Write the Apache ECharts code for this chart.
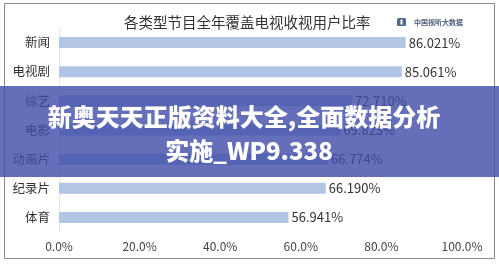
<!DOCTYPE html>
<html>
<head>
<meta charset="utf-8">
<style>
  html, body { margin: 0; padding: 0; background: #ffffff; }
  #chart { width: 499px; height: 264px; }
</style>
<script src="https://cdn.jsdelivr.net/npm/echarts@6/dist/echarts.min.js"></script>
</head>
<body>
<div id="chart"></div>
<script>
// Programme types, top to bottom
const categories = ['新闻', '电视剧', '综艺', '电影', '动画片', '纪录片', '体育'];
// Share of TV viewers reached over the year (%)
const coverage = [86.021, 85.061, 72.710, 69.823, 66.774, 66.190, 56.941];
// Value axis ticks (%)
const tickValues = [0, 20, 40, 60, 80, 100];

const chartTitle = '各类型节目全年覆盖电视收视用户比率';
const brandName = '中国视听大数据';
const bannerLines = ['新奥天天正版资料大全,全面数据分析', '实施_WP9.338'];

const FONT = '"Noto Sans CJK SC", "Noto Sans", sans-serif';

const chart = echarts.init(document.getElementById('chart'), null, { renderer: 'canvas' });

chart.setOption({
  backgroundColor: '#ffffff',
  animation: false,
  textStyle: { fontFamily: FONT },
  title: {
    text: chartTitle,
    left: 119,
    top: 10,
    textStyle: { fontSize: 14.5, fontWeight: 'normal', color: '#333333', fontFamily: FONT }
  },
  grid: { left: 59, right: 37, top: 28, bottom: 32, containLabel: false },
  xAxis: {
    type: 'value',
    min: tickValues[0],
    max: tickValues[tickValues.length - 1],
    interval: tickValues[1] - tickValues[0],
    axisLine: { show: false },
    axisTick: { show: false },
    splitLine: { show: false },
    axisLabel: {
      margin: 8,
      fontSize: 12,
      color: '#444444',
      fontFamily: FONT,
      formatter: v => v.toFixed(1) + '%'
    }
  },
  yAxis: {
    type: 'category',
    data: categories,
    inverse: true,
    axisLine: { show: true, lineStyle: { color: '#e6e6e6', width: 1 } },
    axisTick: { show: false },
    axisLabel: { margin: 9, fontSize: 12.5, color: '#333333', fontFamily: FONT }
  },
  series: [{
    type: 'bar',
    data: coverage,
    barWidth: 11,
    itemStyle: { color: '#b3c5e5' },
    label: {
      show: true,
      position: 'right',
      distance: 3,
      fontSize: 13,
      color: '#333333',
      fontFamily: FONT,
      formatter: p => p.value.toFixed(3) + '%'
    }
  }],
  graphic: [
    // outer frame
    {
      type: 'rect', z: 100,
      shape: { x: 4.5, y: 3.5, width: 490, height: 255 },
      style: { fill: 'none', stroke: '#8a8a8a', lineWidth: 1 }
    },
    // brand mark
    {
      type: 'rect', z: 100,
      shape: { x: 397, y: 18, width: 9, height: 8, r: 1.5 },
      style: { fill: '#4f6a8f' }
    },
    {
      type: 'rect', z: 101,
      shape: { x: 400.5, y: 19.5, width: 2, height: 5 },
      style: { fill: '#ffffff' }
    },
    {
      type: 'text', z: 100,
      style: {
        x: 414, y: 22, text: brandName,
        fill: '#4f5f7d', fontSize: 7, fontWeight: 'bold',
        fontFamily: FONT, verticalAlign: 'middle'
      }
    },
    // translucent banner across the middle
    {
      type: 'rect', z: 200,
      shape: { x: 0, y: 86, width: 499, height: 91 },
      style: { fill: 'rgba(61, 74, 168, 0.8)' }
    },
    {
      type: 'text', z: 201,
      style: {
        x: 244, y: 117, text: bannerLines[0],
        fill: '#ffffff', fontSize: 24, fontWeight: 900,
        fontFamily: FONT, align: 'center', verticalAlign: 'middle'
      }
    },
    {
      type: 'text', z: 201,
      style: {
        x: 249, y: 151, text: bannerLines[1],
        fill: '#ffffff', fontSize: 24, fontWeight: 900,
        fontFamily: FONT, align: 'center', verticalAlign: 'middle'
      }
    }
  ]
});
</script>
</body>
</html>
